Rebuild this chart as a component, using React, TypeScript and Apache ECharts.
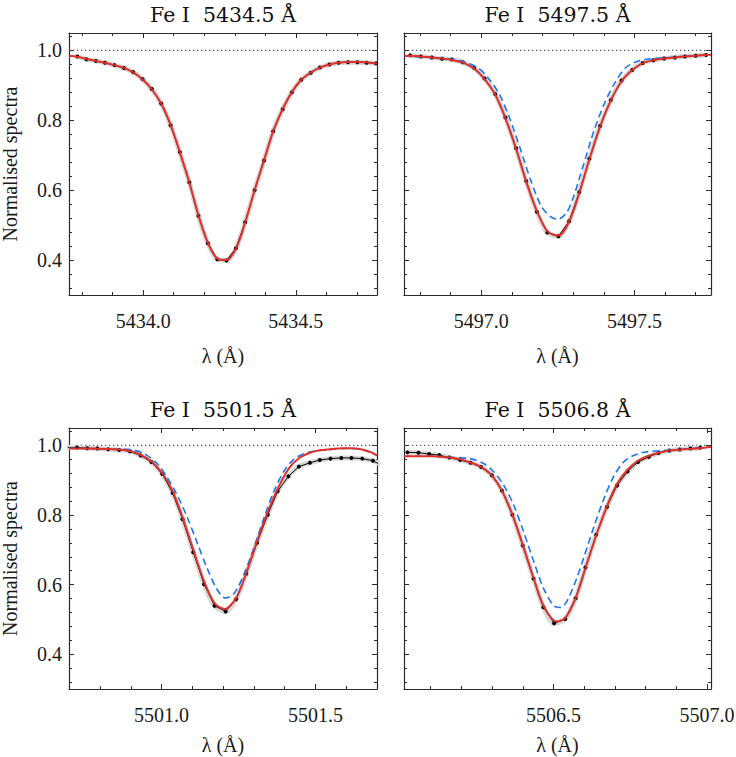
import React, { useEffect, useRef } from "react";
import * as echarts from "echarts";

// ---------- data ----------
const titles = ["Fe I  5434.5 Å", "Fe I  5497.5 Å", "Fe I  5501.5 Å", "Fe I  5506.8 Å"];
const xRanges = [
  [5433.757, 5434.766],
  [5496.748, 5497.75],
  [5500.699, 5501.7],
  [5506.013, 5507.013],
];
const yRange = [0.3, 1.05];
const continuumLevel = 1.0;
const xMajorStep = 0.5;
const yMajorStep = 0.2;

// panel 1 observed
const obs1X = [5433.784, 5433.814, 5433.845, 5433.875, 5433.906, 5433.937, 5433.967, 5433.998, 5434.028, 5434.059, 5434.09, 5434.12, 5434.151, 5434.181, 5434.212, 5434.243, 5434.273, 5434.304, 5434.334, 5434.365, 5434.396, 5434.426, 5434.457, 5434.487, 5434.518, 5434.549, 5434.579, 5434.61, 5434.64, 5434.671, 5434.702, 5434.732, 5434.763];
const obs1Y = [0.983, 0.975, 0.97, 0.965, 0.958, 0.95, 0.938, 0.918, 0.89, 0.848, 0.786, 0.709, 0.623, 0.527, 0.448, 0.402, 0.399, 0.434, 0.508, 0.6, 0.685, 0.769, 0.832, 0.88, 0.916, 0.936, 0.951, 0.96, 0.965, 0.966, 0.966, 0.965, 0.963];
const fit1X = [5433.757, ...obs1X, 5434.766];
const fit1Y = [0.985, 0.982, 0.976, 0.97, 0.965, 0.958, 0.95, 0.937, 0.917, 0.889, 0.848, 0.787, 0.709, 0.623, 0.528, 0.449, 0.404, 0.4, 0.433, 0.507, 0.6, 0.686, 0.769, 0.833, 0.881, 0.916, 0.937, 0.951, 0.96, 0.965, 0.967, 0.967, 0.966, 0.963, 0.962];

// panel 2
const obs2X = [5496.768, 5496.803, 5496.839, 5496.872, 5496.904, 5496.94, 5496.977, 5497.011, 5497.046, 5497.079, 5497.114, 5497.147, 5497.182, 5497.216, 5497.252, 5497.287, 5497.32, 5497.353, 5497.388, 5497.423, 5497.458, 5497.493, 5497.527, 5497.562, 5497.597, 5497.632, 5497.665, 5497.7, 5497.734];
const obs2Y = [0.986, 0.983, 0.98, 0.976, 0.974, 0.966, 0.95, 0.92, 0.875, 0.808, 0.72, 0.626, 0.538, 0.479, 0.468, 0.511, 0.594, 0.69, 0.784, 0.858, 0.914, 0.944, 0.964, 0.972, 0.977, 0.98, 0.983, 0.985, 0.987];
const fit2X = [5496.749, ...obs2X, 5497.75];
const fit2Y = [0.984, 0.985, 0.983, 0.98, 0.977, 0.973, 0.965, 0.948, 0.918, 0.873, 0.806, 0.718, 0.624, 0.54, 0.482, 0.47, 0.51, 0.592, 0.688, 0.782, 0.857, 0.912, 0.944, 0.964, 0.972, 0.977, 0.98, 0.983, 0.985, 0.987, 0.988];
const alt2X = [5496.749, 5496.85, 5496.904, 5496.942, 5496.99, 5497.024, 5497.059, 5497.092, 5497.127, 5497.16, 5497.195, 5497.225, 5497.25, 5497.278, 5497.3, 5497.333, 5497.368, 5497.403, 5497.438, 5497.473, 5497.507, 5497.54, 5497.6, 5497.66, 5497.75];
const alt2Y = [0.984, 0.979, 0.975, 0.968, 0.95, 0.92, 0.875, 0.808, 0.72, 0.632, 0.556, 0.525, 0.517, 0.535, 0.578, 0.67, 0.77, 0.85, 0.91, 0.952, 0.968, 0.975, 0.979, 0.983, 0.988];

// panel 3
const obs3X = [5500.692, 5500.725, 5500.758, 5500.791, 5500.826, 5500.862, 5500.897, 5500.932, 5500.967, 5501.002, 5501.036, 5501.068, 5501.103, 5501.138, 5501.172, 5501.208, 5501.242, 5501.275, 5501.31, 5501.345, 5501.377, 5501.412, 5501.446, 5501.482, 5501.514, 5501.549, 5501.584, 5501.617, 5501.652, 5501.687, 5501.72];
const obs3Y = [0.994, 0.994, 0.992, 0.991, 0.989, 0.987, 0.983, 0.971, 0.952, 0.918, 0.863, 0.788, 0.693, 0.601, 0.539, 0.523, 0.558, 0.631, 0.72, 0.801, 0.868, 0.911, 0.939, 0.95, 0.958, 0.962, 0.964, 0.964, 0.962, 0.956, 0.94];
const fit3X = [5500.699, 5500.758, 5500.826, 5500.862, 5500.897, 5500.932, 5500.967, 5501.002, 5501.036, 5501.068, 5501.103, 5501.138, 5501.172, 5501.205, 5501.242, 5501.275, 5501.31, 5501.345, 5501.377, 5501.412, 5501.446, 5501.482, 5501.514, 5501.549, 5501.584, 5501.617, 5501.652, 5501.687, 5501.7];
const fit3Y = [0.991, 0.991, 0.99, 0.988, 0.984, 0.973, 0.954, 0.92, 0.868, 0.793, 0.7, 0.609, 0.547, 0.53, 0.561, 0.633, 0.724, 0.808, 0.875, 0.932, 0.963, 0.979, 0.986, 0.989, 0.992, 0.992, 0.988, 0.978, 0.971];
const alt3X = [5500.699, 5500.862, 5500.897, 5500.94, 5500.984, 5501.016, 5501.049, 5501.082, 5501.114, 5501.147, 5501.179, 5501.207, 5501.234, 5501.266, 5501.299, 5501.332, 5501.364, 5501.397, 5501.429, 5501.462, 5501.495, 5501.549, 5501.6, 5501.652, 5501.7];
const alt3Y = [0.992, 0.989, 0.988, 0.978, 0.949, 0.911, 0.86, 0.796, 0.724, 0.649, 0.588, 0.561, 0.573, 0.626, 0.703, 0.79, 0.866, 0.925, 0.96, 0.976, 0.983, 0.988, 0.991, 0.988, 0.971];

// panel 4
const obs4X = [5506.024, 5506.06, 5506.095, 5506.128, 5506.161, 5506.196, 5506.23, 5506.264, 5506.299, 5506.332, 5506.366, 5506.4, 5506.435, 5506.467, 5506.502, 5506.538, 5506.572, 5506.604, 5506.639, 5506.674, 5506.707, 5506.741, 5506.775, 5506.81, 5506.842, 5506.877, 5506.911, 5506.946, 5506.978];
const obs4Y = [0.98, 0.979, 0.975, 0.972, 0.965, 0.958, 0.95, 0.938, 0.914, 0.87, 0.801, 0.712, 0.617, 0.535, 0.489, 0.501, 0.561, 0.649, 0.743, 0.823, 0.885, 0.925, 0.952, 0.967, 0.978, 0.985, 0.988, 0.991, 0.993];
const fit4X = [5506.013, 5506.1, 5506.161, 5506.196, 5506.23, 5506.264, 5506.299, 5506.332, 5506.366, 5506.4, 5506.435, 5506.467, 5506.51, 5506.538, 5506.572, 5506.604, 5506.639, 5506.674, 5506.707, 5506.741, 5506.775, 5506.81, 5506.842, 5506.877, 5506.911, 5506.946, 5506.978, 5507.013];
const fit4Y = [0.969, 0.969, 0.965, 0.96, 0.951, 0.938, 0.914, 0.87, 0.801, 0.714, 0.619, 0.54, 0.494, 0.504, 0.561, 0.647, 0.741, 0.825, 0.889, 0.93, 0.956, 0.97, 0.979, 0.985, 0.988, 0.99, 0.992, 0.996];
const alt4X = [5506.013, 5506.1, 5506.161, 5506.228, 5506.272, 5506.304, 5506.337, 5506.37, 5506.402, 5506.435, 5506.467, 5506.5, 5506.522, 5506.543, 5506.576, 5506.598, 5506.63, 5506.663, 5506.696, 5506.728, 5506.761, 5506.8, 5506.877, 5506.946, 5507.013];
const alt4Y = [0.969, 0.969, 0.966, 0.962, 0.948, 0.925, 0.887, 0.829, 0.753, 0.668, 0.59, 0.54, 0.534, 0.551, 0.619, 0.676, 0.762, 0.844, 0.911, 0.952, 0.971, 0.981, 0.986, 0.99, 0.996];

const panels = [
  { obsX: obs1X, obsY: obs1Y, fitX: fit1X, fitY: fit1Y, altX: null as number[] | null, altY: null as number[] | null },
  { obsX: obs2X, obsY: obs2Y, fitX: fit2X, fitY: fit2Y, altX: alt2X, altY: alt2Y },
  { obsX: obs3X, obsY: obs3Y, fitX: fit3X, fitY: fit3Y, altX: alt3X, altY: alt3Y },
  { obsX: obs4X, obsY: obs4Y, fitX: fit4X, fitY: fit4Y, altX: alt4X, altY: alt4Y },
];

// ---------- layout / style ----------
const gridRects = [
  { left: 69, top: 33, width: 308, height: 262 },
  { left: 404, top: 33, width: 307, height: 262 },
  { left: 69, top: 428, width: 308, height: 261 },
  { left: 404, top: 428, width: 307, height: 261 },
];
const xNameGaps = [51, 51, 46, 46];
const FRAME = "#2b2b2b";
const TICK_FONT = "Liberation Serif";
const zip = (xs: number[], ys: number[]) => xs.map((x, i) => [x, ys[i]]);
const isMult = (v: number, step: number) => Math.abs(v / step - Math.round(v / step)) < 1e-6;

function xAxis(i: number, pos: "bottom" | "top") {
  const bottom = pos === "bottom";
  return {
    type: "value",
    gridIndex: i,
    position: pos,
    min: xRanges[i][0],
    max: xRanges[i][1],
    minInterval: xMajorStep,
    maxInterval: xMajorStep,
    axisLine: { show: true, onZero: false, lineStyle: { color: FRAME, width: 1.2 } },
    axisTick: { show: true, inside: true, length: 5, lineStyle: { color: FRAME, width: 1 } },
    minorTick: { show: true, splitNumber: 5, length: 3, lineStyle: { color: FRAME, width: 1 } },
    splitLine: { show: false },
    minorSplitLine: { show: false },
    axisLabel: bottom
      ? {
          show: true,
          interval: 0,
          margin: 16,
          color: "#1a1a1a",
          fontFamily: TICK_FONT,
          fontSize: 20,
          formatter: (v: number) => (isMult(v, xMajorStep) ? v.toFixed(1) : ""),
        }
      : { show: false },
    name: bottom ? "λ (Å)" : "",
    nameLocation: "middle",
    nameGap: xNameGaps[i],
    nameTextStyle: { color: "#1a1a1a", fontFamily: TICK_FONT, fontSize: 20 },
  };
}

function yAxis(i: number, pos: "left" | "right") {
  const labelled = pos === "left" && (i === 0 || i === 2);
  return {
    type: "value",
    gridIndex: i,
    position: pos,
    min: yRange[0],
    max: yRange[1],
    minInterval: yMajorStep,
    maxInterval: yMajorStep,
    axisLine: { show: true, onZero: false, lineStyle: { color: FRAME, width: 1.2 } },
    axisTick: { show: true, inside: true, length: 5, lineStyle: { color: FRAME, width: 1 } },
    minorTick: { show: true, splitNumber: 5, length: 3, lineStyle: { color: FRAME, width: 1 } },
    splitLine: { show: false },
    minorSplitLine: { show: false },
    axisLabel: labelled
      ? {
          show: true,
          interval: 0,
          margin: 7,
          color: "#1a1a1a",
          fontFamily: TICK_FONT,
          fontSize: 20,
          formatter: (v: number) => (isMult(v, yMajorStep) ? v.toFixed(1) : ""),
        }
      : { show: false },
    name: labelled ? "Normalised spectra" : "",
    nameLocation: "middle",
    nameGap: 49,
    nameTextStyle: { color: "#1a1a1a", fontFamily: TICK_FONT, fontSize: 20 },
  };
}

function buildOption() {
  const grid = gridRects.map((r) => ({ ...r, containLabel: false, outerBoundsMode: "none" }));
  const xAxes: any[] = [];
  const yAxes: any[] = [];
  const series: any[] = [];
  panels.forEach((p, i) => {
    xAxes.push(xAxis(i, "bottom"), xAxis(i, "top"));
    yAxes.push(yAxis(i, "left"), yAxis(i, "right"));
    const xi = i * 2;
    const yi = i * 2;
    const common = { xAxisIndex: xi, yAxisIndex: yi, clip: true, animation: false };
    series.push({
      ...common,
      type: "line",
      name: "continuum",
      data: [[xRanges[i][0], continuumLevel], [xRanges[i][1], continuumLevel]],
      symbol: "none",
      lineStyle: { color: "#555", width: 1.3, type: [1.3, 2.7] },
      z: 1,
    });
    series.push({
      ...common,
      type: "line",
      name: "obs band",
      data: zip(p.obsX, p.obsY),
      symbol: "none",
      smooth: 0.3,
      lineStyle: { color: "#d8d8d8", width: 5 },
      z: 2,
    });
    series.push({
      ...common,
      type: "line",
      name: "observed",
      data: zip(p.obsX, p.obsY),
      symbol: "circle",
      symbolSize: 4,
      showSymbol: true,
      showAllSymbol: true,
      itemStyle: { color: "#000" },
      lineStyle: { color: "#000", width: 1 },
      z: 3,
    });
    if (p.altX && p.altY) {
      series.push({
        ...common,
        type: "line",
        name: "alt model",
        data: zip(p.altX, p.altY),
        symbol: "none",
        smooth: 0.3,
        lineStyle: { color: "#1f74f0", width: 1.6, type: [7, 4] },
        z: 4,
      });
    }
    series.push({
      ...common,
      type: "line",
      name: "fit",
      data: zip(p.fitX, p.fitY),
      symbol: "none",
      smooth: 0.3,
      lineStyle: { color: "#e0302a", width: 2 },
      z: 5,
    });
  });
  const title = titles.map((t, i) => ({
    text: t,
    left: gridRects[i].left + gridRects[i].width / 2,
    top: gridRects[i].top - 29,
    textAlign: "center",
    padding: 0,
    textStyle: { fontFamily: "DejaVu Serif", fontSize: 20.5, fontWeight: "normal", color: "#111" },
  }));
  return {
    animation: false,
    backgroundColor: "#ffffff",
    title,
    grid,
    xAxis: xAxes,
    yAxis: yAxes,
    series,
  };
}

export default function App() {
  const ref = useRef<HTMLDivElement>(null);
  useEffect(() => {
    if (!ref.current) return;
    const chart = echarts.init(ref.current, null, { renderer: "svg" });
    chart.setOption(buildOption() as any);
    return () => chart.dispose();
  }, []);
  return <div ref={ref} style={{ position: "absolute", left: 0, top: 0, width: 736, height: 757 }} />;
}
